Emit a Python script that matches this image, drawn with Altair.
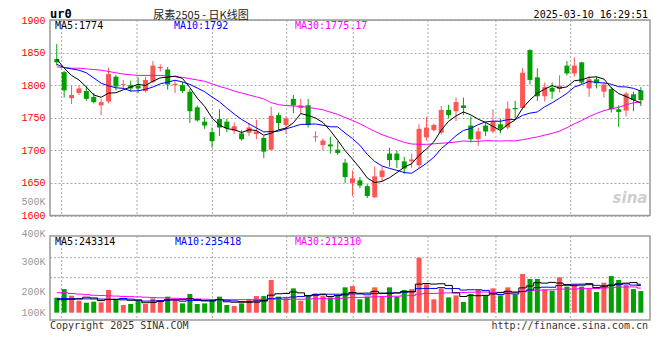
import altair as alt
import pandas as pd
import numpy as np

# ---------------- data ----------------
date_ticks = [0.65, 10.85, 21.05, 31.1, 40.1, 50.2, 59.4, 69.5, 79.56]
date_labels = ['11-11', '11-25', '12-09', '12-23', '01-06', '01-20', '02-10', '02-24', '03-10']

opens = [1840, 1820, 1780, 1788, 1791, 1782, 1769, 1775, 1813, 1800,
         1800, 1799, 1791, 1805, 1826, 1824, 1800, 1800, 1790, 1766,
         1744, 1728, 1748, 1744, 1730, 1726, 1727, 1725, 1719, 1701,
         1754, 1739, 1779, 1765, 1769, 1720, 1708, 1709, 1701, 1681,
         1650, 1654, 1645, 1628, 1659, 1695, 1695, 1683, 1683, 1677,
         1720, 1731, 1727, 1762, 1760, 1769, 1738, 1717, 1738, 1729,
         1740, 1735, 1765, 1765, 1854, 1812, 1783, 1796, 1794, 1830,
         1818, 1835, 1795, 1809, 1790, 1794, 1763, 1761, 1786, 1792]
closes = [1835, 1792, 1785, 1795, 1779, 1774, 1774, 1817, 1798, 1801.5,
          1795, 1795, 1808, 1830, 1828, 1801, 1802, 1791, 1760, 1746,
          1738, 1714, 1735, 1734, 1737, 1717, 1735, 1729, 1698, 1753,
          1742, 1749, 1769, 1769, 1739, 1721.5, 1715, 1706, 1696, 1659,
          1657, 1646, 1630, 1660, 1669, 1685, 1685, 1672, 1686, 1733,
          1735, 1739, 1762, 1754, 1774, 1765, 1717, 1729, 1729, 1744,
          1733, 1764, 1763, 1819, 1808, 1783, 1797, 1790, 1799, 1818,
          1830, 1804, 1809, 1803, 1801, 1763, 1759, 1787, 1777, 1777]
highs = [1863, 1822, 1799, 1799, 1799, 1788, 1779, 1827, 1816, 1808,
         1807, 1812, 1813, 1837, 1832, 1828, 1808, 1805, 1794, 1769,
         1751, 1735, 1763, 1748, 1743, 1731, 1741, 1747, 1722, 1767,
         1758, 1752, 1785, 1779, 1779, 1729, 1718, 1721, 1714, 1687,
         1669, 1659, 1648, 1675, 1675, 1704, 1700, 1690, 1695, 1740,
         1751, 1741, 1768, 1770, 1781, 1781, 1752, 1735, 1742, 1763,
         1748, 1775, 1776, 1826, 1855, 1826, 1804, 1804, 1815, 1837,
         1843, 1836, 1814, 1813, 1804, 1797, 1769, 1790, 1790, 1797]
lows = [1830, 1781, 1771, 1785, 1776, 1772, 1754, 1772, 1792, 1794,
        1790, 1788, 1789, 1803, 1821, 1793, 1788, 1788, 1742, 1744,
        1733, 1704, 1722, 1728, 1725, 1715, 1722, 1717, 1688, 1700,
        1731, 1725, 1757, 1756, 1735, 1713, 1700, 1695, 1693, 1650,
        1630, 1642, 1627, 1627, 1652, 1675, 1673, 1664, 1673, 1673,
        1715, 1729, 1724, 1749, 1745, 1754, 1712, 1707, 1722, 1726,
        1726, 1732, 1749, 1763, 1801, 1776, 1775, 1779, 1789, 1815,
        1813, 1801, 1782, 1795, 1781, 1758, 1736, 1752, 1760, 1768]
volumes_k = [129, 203, 146, 103, 86, 95, 89, 195, 109, 66,
             75, 103, 75, 123, 109, 138, 109, 80, 161, 75,
             80, 109, 138, 66, 57, 80, 109, 143, 143, 281,
             138, 123, 209, 103, 152, 166, 143, 132, 143, 218,
             229, 115, 138, 218, 143, 218, 138, 195, 203, 473,
             244, 115, 209, 132, 149, 92, 161, 195, 149, 209,
             149, 218, 158, 333, 290, 290, 201, 189, 304, 224,
             244, 224, 209, 178, 258, 315, 281, 238, 203, 186]

# moving-average values before each window is full
ma5_head = [1840, 1826, 1815, 1808]
ma10_head = [1832, 1827, 1825, 1823, 1819, 1811, 1803, 1799, 1796]
ma30_head = [1828, 1827, 1826, 1826, 1825, 1824, 1823, 1821, 1819, 1817,
             1816, 1815, 1815, 1815, 1815, 1814, 1813, 1812, 1810, 1808,
             1806, 1802, 1798, 1795, 1791, 1788, 1785, 1782, 1779]
vma5_head = [112, 112, 115, 118]
vma10_head = [122, 122, 121, 120, 119, 118, 117, 116, 115]
vma30_head = [172, 172, 165, 160, 155, 150, 148, 145, 143, 140,
              138, 136, 133, 130, 128, 126, 124, 122, 120, 118,
              116, 114, 113, 112, 112, 112, 113, 114, 115]

ma_price_text = ['MA5:1774', 'MA10:1792', 'MA30:1775.17']
ma_vol_text = ['MA5:243314', 'MA10:235418', 'MA30:212310']
vol_tick_values = [0, 178000, 436000, 685000, 952000]
vol_tick_labels = ['100K', '200K', '300K', '400K', '500K']
price_ticks = [1600, 1650, 1700, 1750, 1800, 1850, 1900]

# ---------------- table ----------------
n = len(opens)
df = pd.DataFrame({'i': np.arange(n), 'open': opens, 'close': closes,
                   'high': highs, 'low': lows, 'vol': np.array(volumes_k) * 1000.0})
df['dir'] = np.where(df['close'] >= df['open'], 'up', 'down')


def moving(series, w, head):
    r = series.rolling(w).mean()
    r.iloc[:w - 1] = head
    return r


df['ma5'] = moving(df['close'], 5, ma5_head)
df['ma10'] = moving(df['close'], 10, ma10_head)
df['ma30'] = moving(df['close'], 30, ma30_head)
df['vma5'] = moving(df['vol'], 5, np.array(vma5_head) * 1000.0)
df['vma10'] = moving(df['vol'], 10, np.array(vma10_head) * 1000.0)
df['vma30'] = moving(df['vol'], 30, np.array(vma30_head) * 1000.0)

ticks_df = pd.DataFrame({'t': date_ticks, 'lab': date_labels})
grid_df = ticks_df.iloc[:-1]

RED = '#ff5555'
GREEN = '#00a000'
GRID = '#aaaaaa'
MONO = 'DejaVu Sans Mono'
dir_color = alt.Color('dir:N', scale=alt.Scale(domain=['up', 'down'], range=[RED, GREEN]), legend=None)

xscale = alt.Scale(domain=[-0.24, 79.56], nice=False, zero=False)
pscale = alt.Scale(domain=[1600, 1900], range=[195.5, 0], nice=False, zero=False)
vscale = alt.Scale(domain=[-62800, 969000], range=[300, 180], nice=False, zero=False)

label_map = '{' + ','.join(f'"{v}":"{l}"' for v, l in zip(date_ticks, date_labels)) + '}'
xaxis = alt.Axis(values=date_ticks, labelExpr=f'{label_map}[toString(datum.value)] || ""',
                 orient='bottom', offset=-104.5, grid=False, ticks=False, domain=False,
                 labelColor='#0078d7', labelFont=MONO, labelFontSize=10, labelPadding=3,
                 labelFlush=3, title=None)
vlab_map = '{' + ','.join(f'"{v}":"{l}"' for v, l in zip(vol_tick_values, vol_tick_labels)) + '}'
paxis = alt.Axis(values=price_ticks, format='d', grid=True, gridColor=GRID, gridDash=[2, 2], ticks=False,
                 domain=False, labelColor='#ff0000', labelFont='Liberation Mono', labelFontSize=10,
                 labelPadding=5, title=None, orient='left')
vaxis = alt.Axis(values=vol_tick_values, labelExpr=f'{vlab_map}[toString(datum.value)]', grid=False,
                 ticks=False, domain=False, labelColor='#999999', labelFont='Liberation Mono',
                 labelFontSize=10, labelPadding=5, title=None, orient='left')

base = alt.Chart(df)

# ---------------- price panel ----------------
p_vgrid = alt.Chart(grid_df).mark_rule(color=GRID, strokeDash=[2, 2]).encode(
    x=alt.X('t:Q', scale=xscale, axis=None), y=alt.value(0), y2=alt.value(195.5))
wick = base.mark_rule(strokeWidth=1).encode(
    x=alt.X('i:Q', scale=xscale, axis=xaxis),
    y=alt.Y('low:Q', scale=pscale, axis=paxis), y2='high:Q', color=dir_color)
body = base.mark_bar(size=5).encode(
    x=alt.X('i:Q', scale=xscale, axis=None),
    y=alt.Y('open:Q', scale=pscale), y2='close:Q', color=dir_color)
ma_lines = []
for col, c in [('ma30', '#ff00ff'), ('ma10', '#0000ff'), ('ma5', '#000000')]:
    ma_lines.append(base.mark_line(color=c, strokeWidth=1).encode(
        x=alt.X('i:Q', scale=xscale, axis=None), y=alt.Y(f'{col}:Q', scale=pscale)))
p_frame = alt.Chart(df.head(1)).mark_rect(fill='transparent', stroke='#999999', strokeWidth=1.5).encode(
    x=alt.value(0), x2=alt.value(600), y=alt.value(0), y2=alt.value(195.5))
p_texts = []
for txt, c, xv in zip(ma_price_text, ['#000000', '#0000ff', '#ff00ff'], [5, 124, 245]):
    p_texts.append(alt.Chart(df.head(1)).mark_text(
        text=txt, color=c, font=MONO, fontSize=10, align='left', baseline='middle').encode(
        x=alt.value(xv), y=alt.value(5.7)))
sina = alt.Chart(df.head(1)).mark_text(text='sina', color='#cfcfcf', font='DejaVu Sans', fontSize=15,
                                       fontWeight='bold', fontStyle='italic', align='center',
                                       baseline='middle').encode(x=alt.value(580), y=alt.value(178))
price = alt.layer(p_vgrid, wick, body, *ma_lines, p_frame, sina, *p_texts)

# ---------------- volume panel ----------------
v_vgrid = alt.Chart(grid_df).mark_rule(color=GRID, strokeDash=[2, 2]).encode(
    x=alt.X('t:Q', scale=xscale, axis=None), y=alt.value(216), y2=alt.value(300))
v_hgrid = []
for yv in [237.7, 257.7]:
    v_hgrid.append(alt.Chart(df.head(1)).mark_rule(color=GRID, strokeDash=[2, 2]).encode(
        x=alt.value(0), x2=alt.value(600), y=alt.value(yv)))
vbars = base.mark_bar(size=5).encode(
    x=alt.X('i:Q', scale=xscale, axis=None),
    y=alt.Y('vol:Q', scale=vscale, axis=vaxis), y2=alt.datum(0), color=dir_color)
vlines = []
for col, c in [('vma30', '#ff00ff'), ('vma10', '#0000ff'), ('vma5', '#000000')]:
    vlines.append(base.mark_line(color=c, strokeWidth=1, interpolate='step').encode(
        x=alt.X('i:Q', scale=xscale, axis=None), y=alt.Y(f'{col}:Q', scale=vscale)))
v_frame = alt.Chart(df.head(1)).mark_rect(fill='transparent', stroke='#999999', strokeWidth=1.5).encode(
    x=alt.value(0), x2=alt.value(600), y=alt.value(216), y2=alt.value(300))
v_texts = []
for txt, c, xv in zip(ma_vol_text, ['#000000', '#0000ff', '#ff00ff'], [5, 125, 245]):
    v_texts.append(alt.Chart(df.head(1)).mark_text(
        text=txt, color=c, font=MONO, fontSize=10, align='left', baseline='middle').encode(
        x=alt.value(xv), y=alt.value(222)))
volume = alt.layer(v_vgrid, *v_hgrid, vbars, *vlines, v_frame, *v_texts)

# ---------------- header / footer texts ----------------
def label(txt, xv, yv, align='left', size=10, color='#000000', font=MONO, weight='normal'):
    return alt.Chart(df.head(1)).mark_text(text=txt, align=align, baseline='alphabetic', fontSize=size,
                                           color=color, font=font, fontWeight=weight).encode(
        x=alt.value(xv), y=alt.value(yv))

header = alt.layer(
    label('ur0', 0, -2.5, size=12, weight='bold'),
    label('尿素2505 - 日K线图', 151, -1.5, align='center', size=11, color='#222222', font='Noto Sans CJK SC'),
    label('2025-03-10 16:29:51', 598, -2.5, align='right'),
    label('Copyright 2025 SINA.COM', 0, 309, color='#333333'),
    label('http://finance.sina.com.cn', 598, 309, align='right', color='#333333'),
)

chart = alt.layer(price, volume, header).resolve_scale(y='independent').properties(
    width=600, height=300,
    autosize=alt.AutoSizeParams(type='none'),
    padding={'left': 42, 'top': 12, 'right': 2, 'bottom': 16},
    background='white',
).configure_view(stroke=None)

chart.save('out.html', embed_options={'renderer': 'svg', 'actions': False})
